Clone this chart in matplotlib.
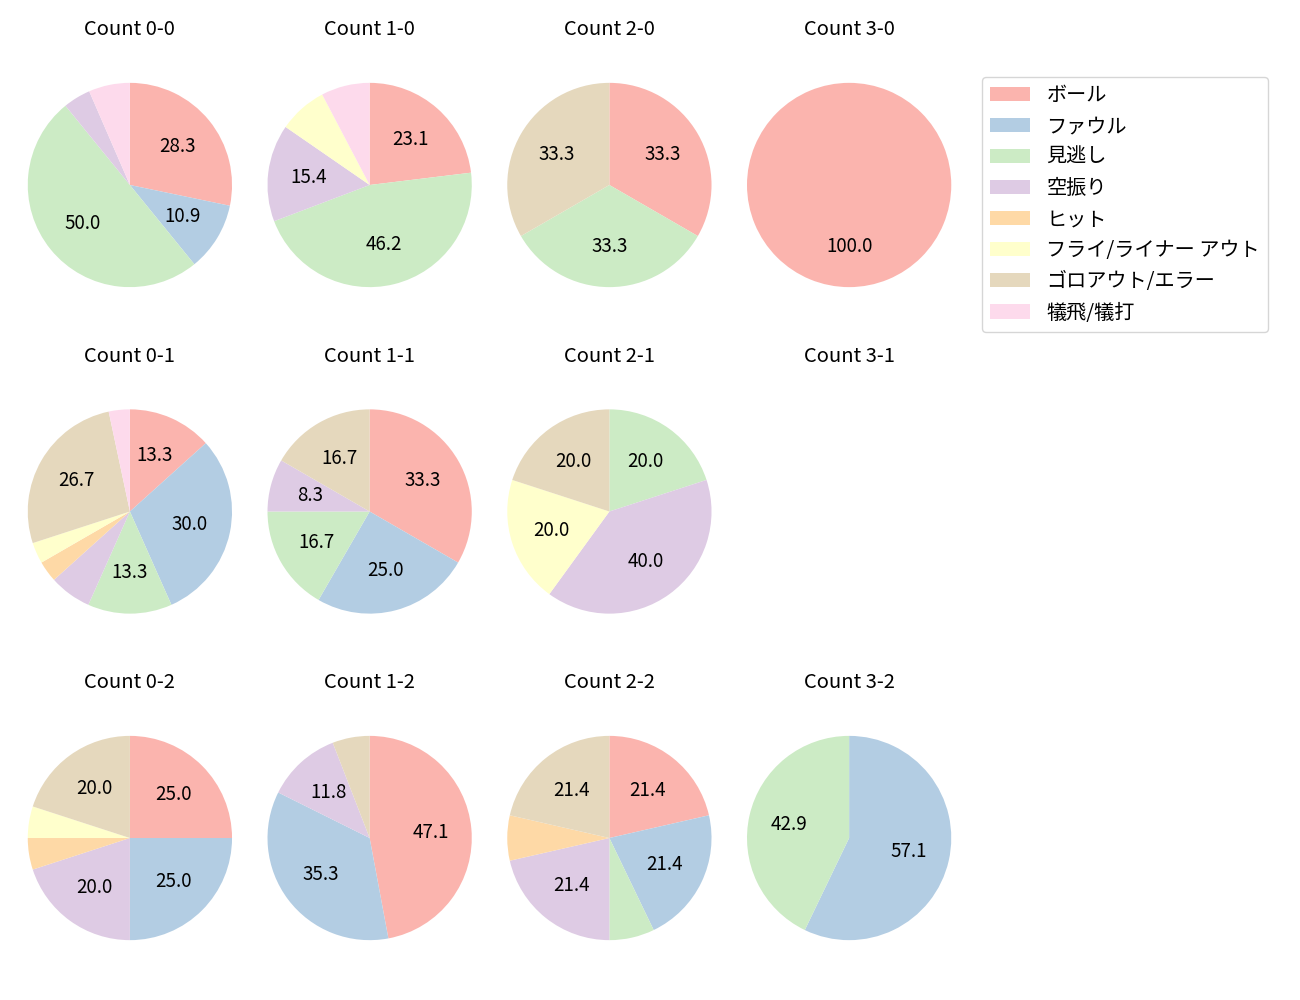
import matplotlib
matplotlib.use("Agg")
import matplotlib.pyplot as plt

plt.rcParams['font.family'] = ['Noto Sans CJK JP', 'DejaVu Sans']

# Result categories (legend order)
categories = ["ボール", "ファウル", "見逃し", "空振り", "ヒット",
              "フライ/ライナー アウト", "ゴロアウト/エラー", "犠飛/犠打"]

colors = ["#fbb4ae", "#b3cde3", "#ccebc5", "#decbe4", "#fed9a6",
          "#ffffcc", "#e5d8bd", "#fddaec"]

# Counts per ball-strike situation, in category order
count_0_0 = [13, 5, 23, 2, 0, 0, 0, 3]
count_1_0 = [3, 0, 6, 2, 0, 1, 0, 1]
count_2_0 = [1, 0, 1, 0, 0, 0, 1, 0]
count_3_0 = [1, 0, 0, 0, 0, 0, 0, 0]
count_0_1 = [4, 9, 4, 2, 1, 1, 8, 1]
count_1_1 = [4, 3, 2, 1, 0, 0, 2, 0]
count_2_1 = [0, 0, 1, 2, 0, 1, 1, 0]
count_3_1 = [0, 0, 0, 0, 0, 0, 0, 0]
count_0_2 = [5, 5, 0, 4, 1, 1, 4, 0]
count_1_2 = [8, 6, 0, 2, 0, 0, 1, 0]
count_2_2 = [3, 3, 1, 3, 1, 0, 3, 0]
count_3_2 = [0, 4, 3, 0, 0, 0, 0, 0]

grid = [
    [("0-0", count_0_0), ("1-0", count_1_0), ("2-0", count_2_0), ("3-0", count_3_0)],
    [("0-1", count_0_1), ("1-1", count_1_1), ("2-1", count_2_1), ("3-1", count_3_1)],
    [("0-2", count_0_2), ("1-2", count_1_2), ("2-2", count_2_2), ("3-2", count_3_2)],
]


def pct_label(p):
    # Hide labels for small slices
    return f"{p:.1f}" if p >= 8 else ""


def main():
    fig, axes = plt.subplots(3, 4, figsize=(13, 10), dpi=100)
    fig.subplots_adjust(left=0.0135, right=0.7396, top=0.96, bottom=0.017,
                        wspace=0.067, hspace=0.126)

    handles = None
    for r, row in enumerate(grid):
        for c, (name, values) in enumerate(row):
            ax = axes[r, c]
            ax.set_title(f"Count {name}", fontsize=14.5, pad=2.5)
            if sum(values) == 0:
                ax.axis("off")
                continue
            wedges, _, _ = ax.pie(values, colors=colors, startangle=90,
                                  counterclock=False, autopct=pct_label,
                                  textprops={"fontsize": 13.5})
            ax.set_xlim(-1.1, 1.1)
            ax.set_ylim(-1.1, 1.1)
            ax.set_aspect("equal", adjustable="datalim")
            if handles is None:
                handles = wedges

    fig.legend(handles, categories, loc="upper left",
               bbox_to_anchor=(982 / 1300, 1 - 77 / 1000), fontsize=14.5,
               borderaxespad=0)

    fig.savefig("out.png")


if __name__ == "__main__":
    main()
